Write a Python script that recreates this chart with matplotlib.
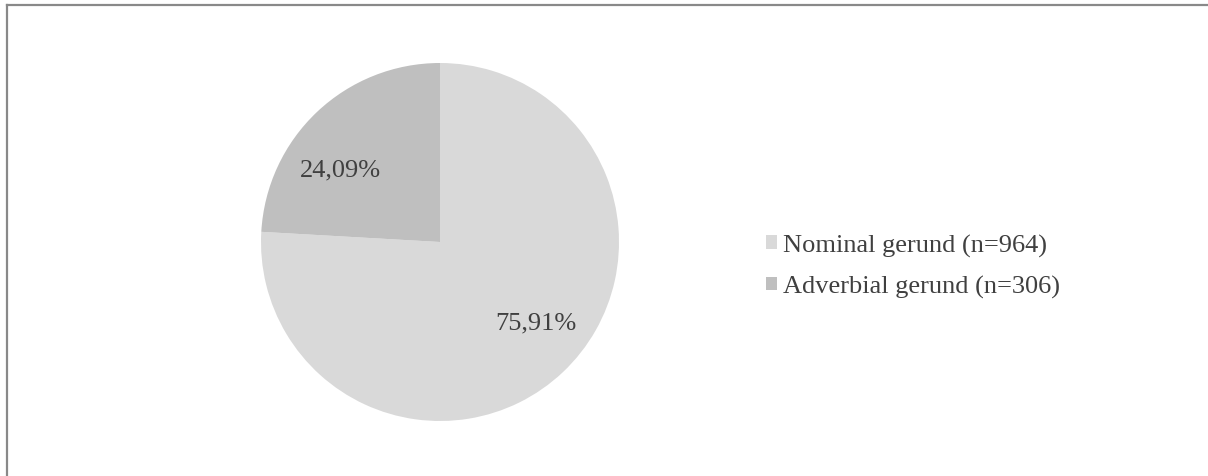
import numpy as np
import matplotlib.pyplot as plt
from matplotlib.patches import Patch
from matplotlib.lines import Line2D

labels = ['Nominal gerund (n=964)', 'Adverbial gerund (n=306)']
counts = [964, 306]
pct_text = ['75,91%', '24,09%']
colors = ['#d9d9d9', '#bfbfbf']
# label placement (angle in degrees, fraction of radius), Excel "best fit" style
label_angle = [-39.8, 143.9]
label_r = [0.70, 0.69]

plt.rcParams['font.family'] = ['Liberation Serif', 'DejaVu Serif']
txt_color = '#404040'

W, H = 1208, 477
fig = plt.figure(figsize=(W / 100, H / 100), dpi=100)

# pie axes: centre (440, 243) px, radius 179 px
cx, cy, r = 440, 243, 179
ax = fig.add_axes([(cx - r) / W, (H - cy - r) / H, 2 * r / W, 2 * r / H])
ax.pie(counts, colors=colors, startangle=90, counterclock=False,
       wedgeprops=dict(linewidth=0))
ax.set_xlim(-1, 1)
ax.set_ylim(-1, 1)
ax.set_aspect('equal')
ax.axis('off')

for t, a, rr in zip(pct_text, label_angle, label_r):
    ax.text(rr * np.cos(np.radians(a)), rr * np.sin(np.radians(a)), t,
            ha='center', va='center', fontsize=19, color=txt_color)

handles = [Patch(facecolor=c, edgecolor='none') for c in colors]
leg = fig.legend(handles, labels, loc='center left',
                 bbox_to_anchor=(766 / W, 1 - 267 / H),
                 frameon=False, fontsize=19, borderpad=0, borderaxespad=0,
                 handlelength=0.42, handleheight=0.42, handletextpad=0.22,
                 labelspacing=0.70)
for t in leg.get_texts():
    t.set_color(txt_color)

# outer border (only top and left visible in reference)
fig.add_artist(Line2D([6.5 / W, 6.5 / W], [0, 1 - 5.5 / H], color='#898989',
                      linewidth=1.6, transform=fig.transFigure))
fig.add_artist(Line2D([6.5 / W, 1], [1 - 5.5 / H, 1 - 5.5 / H], color='#898989',
                      linewidth=1.6, transform=fig.transFigure))

fig.savefig('out.png', dpi=100)
